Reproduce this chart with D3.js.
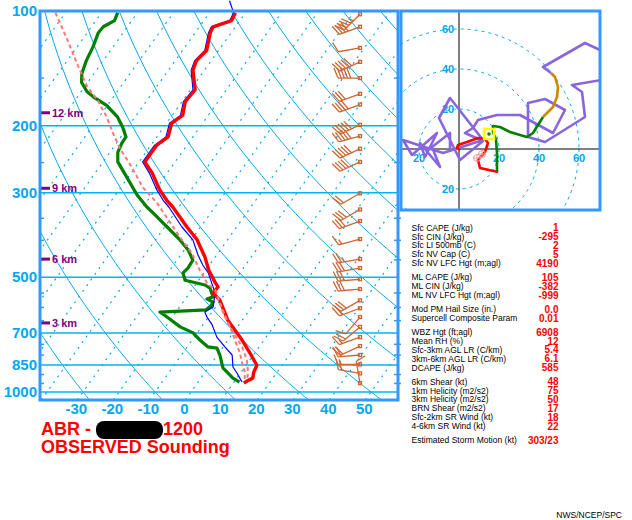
<!DOCTYPE html>
<html>
<head>
<meta charset="utf-8">
<script src="https://cdn.jsdelivr.net/npm/d3@7"></script>
<style>
  body { margin: 0; background: #fff; }
  svg { display: block; font-family: "Liberation Sans", Arial, sans-serif; }
</style>
</head>
<body>
<div id="chart"></div>
<script>
// ---- sounding data ----
const tempP = [101, 106, 110, 114, 127, 135, 143, 161, 173, 188, 197, 214, 225, 235, 249, 266, 295, 314, 327, 369, 399, 443, 479, 515, 530, 550, 574, 648, 731, 791, 851, 887, 920, 936, 948]
const tempC = [-62.8, -62.3, -66.2, -65.8, -63.3, -64.1, -63.2, -58.7, -59.1, -57.1, -58.6, -56.9, -58.4, -58.4, -58.4, -54.2, -48.7, -44.7, -41.7, -33.8, -28.4, -22.8, -19.2, -15.1, -13.3, -13.5, -10.2, -4.0, 3.9, 8.7, 13.0, 13.5, 14.4, 13.4, 12.9]

const dewP = [101, 106, 110, 114, 124, 135, 146, 154, 163, 168, 177, 190, 202, 214, 222, 235, 249, 273, 304, 327, 339, 369, 399, 424, 451, 473, 487, 509, 524, 534, 563, 570, 581, 595, 609, 617, 636, 675, 700, 731, 762, 767, 800, 865, 920, 942]
const dewC = [-95.5, -94.8, -96.7, -96.9, -95.6, -94.7, -93.4, -91.7, -88.3, -85.6, -80.2, -74.8, -71.4, -68.6, -68.5, -67.8, -65.9, -60.4, -54.0, -48.9, -46.0, -39.3, -33.2, -28.9, -25.6, -25.4, -25.8, -23.8, -17.3, -15.3, -12.7, -14.0, -11.7, -11.5, -12.1, -24.5, -21.5, -15.9, -11.1, -7.8, -4.2, -1.5, 0.7, 4.1, 8.9, 11.5]

const wetP = [94, 101, 106, 110, 114, 127, 135, 143, 161, 173, 188, 197, 214, 225, 235, 249, 266, 295, 314, 327, 369, 399, 437, 465, 487, 518, 550, 598, 617, 636, 667, 718, 762, 800, 860, 892, 920, 942]
const wetC = [-66.8, -63.3, -62.8, -66.7, -66.3, -63.8, -64.6, -63.7, -59.3, -59.6, -57.7, -59.2, -57.5, -59.0, -59.0, -59.0, -55.0, -49.5, -45.7, -42.8, -35.2, -29.6, -25.2, -21.8, -18.8, -15.8, -12.9, -10.7, -12.0, -10.4, -7.4, -3.7, 0.5, 4.1, 6.7, 9.0, 10.8, 12.2]

const parcelP = [101, 119, 139, 158, 171, 190, 209, 229, 257, 290, 319, 392, 432, 479, 518, 540, 617, 675, 731, 791, 860, 892, 942]
const parcelC = [-112.8, -104.1, -96.1, -89.3, -83.9, -77.8, -73.0, -68.1, -61.0, -54.0, -46.9, -33.8, -27.3, -21.7, -17.1, -13.5, -7.0, -2.0, 1.9, 5.9, 9.5, 11.3, 12.8]
const parcel2P = [540, 584, 656, 709, 762, 825, 887, 931]
const parcel2C = [-13.5, -9.6, -3.6, 0.9, 5.3, 9.2, 11.9, 13.2]

// wind barbs: pressure, direction (deg), speed (kt)
const barbP = [102, 110, 125, 136, 150, 165, 176, 199, 213, 230, 249, 301, 332, 356, 397, 448, 473, 506, 537, 575, 603, 636, 675, 718, 758, 800, 847, 894, 948]
const barbDir = [225, 250, 260, 245, 270, 250, 250, 245, 255, 245, 245, 240, 240, 250, 255, 260, 260, 265, 265, 240, 250, 220, 230, 250, 245, 265, 270, 280, 350]
const barbSpd = [45, 40, 10, 50, 50, 30, 40, 50, 50, 50, 40, 20, 30, 30, 15, 25, 30, 30, 30, 30, 20, 10, 20, 15, 20, 20, 15, 20, 15]

// axes
const pressLabels = [100, 200, 300, 500, 700, 850, 1000]
const isobars = [200, 300, 500, 700, 850, 1000]
const pressTicks = [150, 250, 350, 400, 450, 550, 600, 650, 750, 800, 900, 950]
const tempLabels = [-30, -20, -10, 0, 10, 20, 30, 40, 50]
const isotherms = d3.range(-120, 60, 10)
const adiabats = d3.range(-30, 270, 20)   // potential temperature (C) at 1000 mb
const heightKm = [3, 6, 9, 12]
const heightP = [659, 448, 292, 185]

// hodograph (u, v in kt)
const hodoRed = [[0.5, -0.5], [-1, 0.5], [-0.5, 2], [4, 3.5], [9.5, 5.5], [13, 5], [14.5, 3], [13, -1.5], [9.5, -5.5], [10.5, -9.5], [19.5, -11.5]]
const hodoGreen = [[19, -11.5], [19, -2], [18.5, 4.5], [17, 8.5], [17, 11.5], [20.5, 11], [25.5, 8.5], [30.5, 7], [34, 6], [37, 8], [42, 16]]
const hodoOrange = [[42, 16], [47, 21], [49, 26], [49.5, 31], [48, 36], [46, 38]]
const hodoPurple = [[46, 38], [42, 41], [63, 53], [80, 45], [80, 36], [56.5, 32], [61.5, 28.5], [63, 16], [43, 3.5], [34.5, 6], [34.5, 23], [43, 25], [53, 19.5], [47, 8], [30.5, 17], [19, 17], [9.5, 14.5], [7, 10.5], [3, 8], [12, 4], [0.5, -5.5], [-10, 15.5], [-4.5, 25.5], [12, 4.5], [-8, -2], [-28, 4.5], [-23.5, -3], [-11, 8], [-17, -4], [-19.5, 3], [-9.5, -9], [-13.5, 1], [-4.5, 8], [-4.5, 0.5]]
const hodoRings = [20, 40, 60]
const meanWind = [15, 7.5]
const bunkers = [[9, -4.5], [11.5, -2.5]]

// parameter table
const paramLabels = ['Sfc CAPE (J/kg)', 'Sfc CIN (J/kg)', 'Sfc LI 500mb (C)', 'Sfc NV Cap (C)', 'Sfc NV LFC Hgt (m;agl)',
  'ML CAPE (J/kg)', 'ML CIN (J/kg)', 'ML NV LFC Hgt (m;agl)',
  'Mod PM Hail Size (in.)', 'Supercell Composite Param',
  'WBZ Hgt (ft;agl)', 'Mean RH (%)', 'Sfc-3km AGL LR (C/km)', '3km-6km AGL LR (C/km)', 'DCAPE (J/kg)',
  '6km Shear (kt)', '1km Helicity (m2/s2)', '3km Helicity (m2/s2)', 'BRN Shear (m2/s2)', 'Sfc-2km SR Wind (kt)', '4-6km SR Wind (kt)',
  'Estimated Storm Motion (kt)']
const paramValues = ['1', '-295', '2', '5', '4190', '105', '-382', '-999', '0.0', '0.01', '6908', '12', '5.4', '6.1', '585',
  '48', '75', '50', '17', '18', '22', '303/23']
const paramGroup = [0, 0, 0, 0, 0, 1, 1, 1, 2, 2, 3, 3, 3, 3, 3, 4, 4, 4, 4, 4, 4, 5]

// ---- drawing ----
const width = 632, height = 520
const plot = { left: 40, right: 398, top: 11, bottom: 400 }
const gridCol = '#00aaee', labelCol = '#00a8f0', frameCol = '#3399ff', barbCol = '#cc6633'

const svg = d3.select('#chart').append('svg')
  .attr('width', width)
  .attr('height', height)

const y = d3.scaleLog().domain([100, 1050]).range([plot.top, plot.bottom])
const xT = d3.scaleLinear().domain([0, 10]).range([185.3, 221.3])
const skew = 0.713
const sx = (t, p) => xT(t) + skew * (plot.bottom - y(p))

svg.append('clipPath').attr('id', 'plotClip')
  .append('rect')
  .attr('x', plot.left).attr('y', plot.top)
  .attr('width', plot.right - plot.left).attr('height', plot.bottom - plot.top)

const grid = svg.append('g').attr('clip-path', 'url(#plotClip)')

// isotherms (dashed)
grid.append('g')
  .selectAll('line')
  .data(isotherms)
  .join('line')
  .attr('x1', d => sx(d, 1050)).attr('y1', y(1050))
  .attr('x2', d => sx(d, 100)).attr('y2', y(100))
  .attr('stroke', gridCol)
  .attr('stroke-width', 1.2)
  .attr('stroke-dasharray', '2,5')

// dry adiabats (solid)
const adiabatLine = d3.line().x(d => sx(d[1], d[0])).y(d => y(d[0]))
const kappa = 0.2857
grid.append('g')
  .selectAll('path')
  .data(adiabats)
  .join('path')
  .attr('d', th => {
    const pts = d3.range(1050, 95, -10).map(p => [p, (th + 273.15) * Math.pow(p / 1000, kappa) - 273.15])
    return adiabatLine(pts)
  })
  .attr('fill', 'none')
  .attr('stroke', gridCol)
  .attr('stroke-width', 1)

// isobars
grid.append('g')
  .selectAll('line')
  .data(isobars)
  .join('line')
  .attr('x1', plot.left).attr('x2', plot.right)
  .attr('y1', d => y(d)).attr('y2', d => y(d))
  .attr('stroke', '#00b4f0')
  .attr('stroke-width', 1.5)

// pressure ticks on both sides
svg.append('g')
  .selectAll('line')
  .data(pressTicks.flatMap(p => [[plot.left, plot.left + 4, p], [plot.right - 4, plot.right + 3, p]]))
  .join('line')
  .attr('x1', d => d[0]).attr('x2', d => d[1])
  .attr('y1', d => y(d[2])).attr('y2', d => y(d[2]))
  .attr('stroke', frameCol)
  .attr('stroke-width', 1.5)

// profiles
const prof = d3.line().x(d => sx(d[1], d[0])).y(d => y(d[0]))
const zipP = (P, C) => P.map((p, i) => [p, C[i]])
const traces = svg.append('g').attr('fill', 'none').attr('stroke-linejoin', 'round')

traces.append('path').attr('clip-path', 'url(#plotClip)')
  .attr('d', prof(zipP(dewP, dewC)))
  .attr('stroke', '#008000').attr('stroke-width', 3.2)
traces.append('path')
  .attr('d', prof(zipP(wetP, wetC)))
  .attr('stroke', '#0000ff').attr('stroke-width', 1.2)
traces.append('path')
  .attr('d', prof(zipP(tempP, tempC)))
  .attr('stroke', '#ff0000').attr('stroke-width', 3.4)
traces.append('path').attr('clip-path', 'url(#plotClip)')
  .attr('d', prof(zipP(parcelP, parcelC)))
  .attr('stroke', '#ff7777').attr('stroke-width', 2).attr('stroke-dasharray', '4,3')
traces.append('path')
  .attr('d', prof(zipP(parcel2P, parcel2C)))
  .attr('stroke', '#ff7777').attr('stroke-width', 2).attr('stroke-dasharray', '4,3')

// wind barbs
const barbX = 360
const barbPath = (p, dir, spd) => {
  const x0 = barbX, y0 = y(p), L = 22
  const r = dir * Math.PI / 180
  const dx = Math.sin(r), dy = -Math.cos(r)
  const px = -dy, py = dx
  const path = d3.path()
  path.moveTo(x0, y0)
  path.lineTo(x0 + dx * L, y0 + dy * L)
  const full = Math.floor((spd + 2.5) / 10)
  const half = (spd + 2.5) % 10 >= 5 ? 1 : 0
  let pos = L
  for (let i = 0; i < full; i++) {
    const bx = x0 + dx * pos, by = y0 + dy * pos
    path.moveTo(bx, by)
    path.lineTo(bx + px * 10 + dx * 4, by + py * 10 + dy * 4)
    pos -= 3.2
  }
  if (half) {
    if (full === 0) pos -= 3.2
    const bx = x0 + dx * pos, by = y0 + dy * pos
    path.moveTo(bx, by)
    path.lineTo(bx + px * 5 + dx * 2, by + py * 5 + dy * 2)
  }
  return path.toString()
}
const barbs = svg.append('g').attr('stroke', barbCol).attr('fill', 'none').attr('stroke-width', 1.3)
barbs.selectAll('path')
  .data(barbP)
  .join('path')
  .attr('d', (p, i) => barbPath(p, barbDir[i], barbSpd[i]))
barbs.selectAll('rect')
  .data(barbP)
  .join('rect')
  .attr('x', barbX - 1.5).attr('y', p => y(p) - 1.5)
  .attr('width', 3).attr('height', 3)

// height markers
const km = svg.append('g').attr('fill', '#800080')
km.selectAll('line')
  .data(heightP)
  .join('line')
  .attr('x1', plot.left + 1).attr('x2', plot.left + 10)
  .attr('y1', d => y(d)).attr('y2', d => y(d))
  .attr('stroke', '#800080').attr('stroke-width', 3)
km.selectAll('text')
  .data(heightKm)
  .join('text')
  .attr('x', plot.left + 12)
  .attr('y', (d, i) => y(heightP[i]) + 4)
  .attr('font-size', 11).attr('font-weight', 'bold')
  .text(d => d + ' km')

// frame
svg.append('rect')
  .attr('x', plot.left).attr('y', plot.top)
  .attr('width', plot.right - plot.left).attr('height', plot.bottom - plot.top)
  .attr('fill', 'none').attr('stroke', frameCol).attr('stroke-width', 3)

// pressure labels
svg.append('g')
  .selectAll('text')
  .data(pressLabels)
  .join('text')
  .attr('x', plot.left - 3)
  .attr('y', d => y(d) + 5)
  .attr('text-anchor', 'end')
  .attr('font-size', 15).attr('font-weight', 'bold')
  .attr('fill', labelCol)
  .text(d => d)

// temperature labels
svg.append('g')
  .selectAll('text')
  .data(tempLabels)
  .join('text')
  .attr('x', d => xT(d) - 1)
  .attr('y', plot.bottom + 14)
  .attr('text-anchor', 'middle')
  .attr('font-size', 15).attr('font-weight', 'bold')
  .attr('fill', labelCol)
  .text(d => d)

// title
const title = svg.append('g').attr('fill', '#ff0000').attr('font-size', 18).attr('font-weight', 'bold')
title.append('text').attr('x', 41).attr('y', 435).text('ABR -')
title.append('text').attr('x', 163).attr('y', 435).text('1200')
title.append('text').attr('x', 41).attr('y', 453).text('OBSERVED Sounding')
svg.append('rect')
  .attr('x', 96).attr('y', 421).attr('width', 67).attr('height', 18).attr('rx', 8)
  .attr('fill', '#000')

// ---- hodograph ----
const hodo = { left: 401, top: 11, right: 600, bottom: 210 }
const hx = d3.scaleLinear().domain([-29, 71]).range([401, 601])
const hy = d3.scaleLinear().domain([-30.5, 69]).range([210, 11])
const hr = k => hx(k) - hx(0)

svg.append('clipPath').attr('id', 'hodoClip')
  .append('rect')
  .attr('x', hodo.left).attr('y', hodo.top)
  .attr('width', hodo.right - hodo.left).attr('height', hodo.bottom - hodo.top)

const hg = svg.append('g').attr('clip-path', 'url(#hodoClip)')
hg.append('rect')
  .attr('x', hodo.left).attr('y', hodo.top)
  .attr('width', hodo.right - hodo.left).attr('height', hodo.bottom - hodo.top)
  .attr('fill', '#fff')
hg.selectAll('circle.ring')
  .data(hodoRings)
  .join('circle')
  .attr('class', 'ring')
  .attr('cx', hx(0)).attr('cy', hy(0))
  .attr('r', d => hr(d))
  .attr('fill', 'none').attr('stroke', gridCol)
  .attr('stroke-width', 1).attr('stroke-dasharray', '3,4')
hg.append('line')
  .attr('x1', hx(0)).attr('x2', hx(0)).attr('y1', hodo.top).attr('y2', hodo.bottom)
  .attr('stroke', '#000')
hg.append('line')
  .attr('x1', hodo.left).attr('x2', hodo.right).attr('y1', hy(0)).attr('y2', hy(0))
  .attr('stroke', '#000')

const hodoLabels = hg.append('g')
  .attr('font-size', 11).attr('font-weight', 'bold').attr('fill', labelCol)
  .attr('text-anchor', 'middle')
hodoLabels.selectAll('text.xl')
  .data([-20, 20, 40, 60])
  .join('text')
  .attr('class', 'xl')
  .attr('x', d => hx(d)).attr('y', hy(0) + 13)
  .text(d => Math.abs(d))
hodoLabels.selectAll('text.yl')
  .data([60, 40, 20, -20])
  .join('text')
  .attr('class', 'yl')
  .attr('x', hx(0) - 11).attr('y', d => hy(d) + 4)
  .text(d => Math.abs(d))

const hline = d3.line().x(d => hx(d[0])).y(d => hy(d[1]))
const hodoTraces = [[hodoPurple, '#8866dd'], [hodoRed, '#ff0000'], [hodoGreen, '#008000'], [hodoOrange, '#cc8800']]
hg.append('g')
  .selectAll('path')
  .data(hodoTraces)
  .join('path')
  .attr('d', d => hline(d[0]))
  .attr('fill', 'none')
  .attr('stroke', d => d[1])
  .attr('stroke-width', 2.6)
  .attr('stroke-linejoin', 'round')

hg.append('rect')
  .attr('x', hx(meanWind[0]) - 5).attr('y', hy(meanWind[1]) - 5)
  .attr('width', 10).attr('height', 10)
  .attr('fill', 'none').attr('stroke', '#ffff00').attr('stroke-width', 2.5)
hg.append('circle')
  .attr('cx', hx(meanWind[0])).attr('cy', hy(meanWind[1])).attr('r', 1.8)
  .attr('fill', '#008000')
const bk = hg.append('g').attr('stroke', '#ff9999').attr('fill', 'none').attr('stroke-width', 1)
bk.selectAll('circle')
  .data(bunkers)
  .join('circle')
  .attr('cx', d => hx(d[0])).attr('cy', d => hy(d[1])).attr('r', 3.5)
bk.selectAll('path')
  .data(bunkers)
  .join('path')
  .attr('d', d => `M${hx(d[0]) - 3.5},${hy(d[1])}h7M${hx(d[0])},${hy(d[1]) - 3.5}v7`)

svg.append('rect')
  .attr('x', hodo.left).attr('y', hodo.top)
  .attr('width', hodo.right - hodo.left).attr('height', hodo.bottom - hodo.top)
  .attr('fill', 'none').attr('stroke', frameCol).attr('stroke-width', 3)

// ---- parameter table ----
const rowY = i => 227.7 + i * 8.85 + paramGroup[i] * 5.3
const table = svg.append('g')
table.selectAll('text.lab')
  .data(paramLabels)
  .join('text')
  .attr('class', 'lab')
  .attr('x', 411.5).attr('y', (d, i) => rowY(i) + 3)
  .attr('font-size', 8.5).attr('fill', '#000')
  .text(d => d)
table.selectAll('text.val')
  .data(paramValues)
  .join('text')
  .attr('class', 'val')
  .attr('x', 558.5).attr('y', (d, i) => rowY(i) + 3.6)
  .attr('text-anchor', 'end')
  .attr('font-size', 10).attr('font-weight', 'bold').attr('fill', '#ff0000')
  .text(d => d)

svg.append('text')
  .attr('x', 622).attr('y', 517.5)
  .attr('text-anchor', 'end')
  .attr('font-size', 8.5).attr('fill', '#000')
  .text('NWS/NCEP/SPC')
</script>
</body>
</html>
